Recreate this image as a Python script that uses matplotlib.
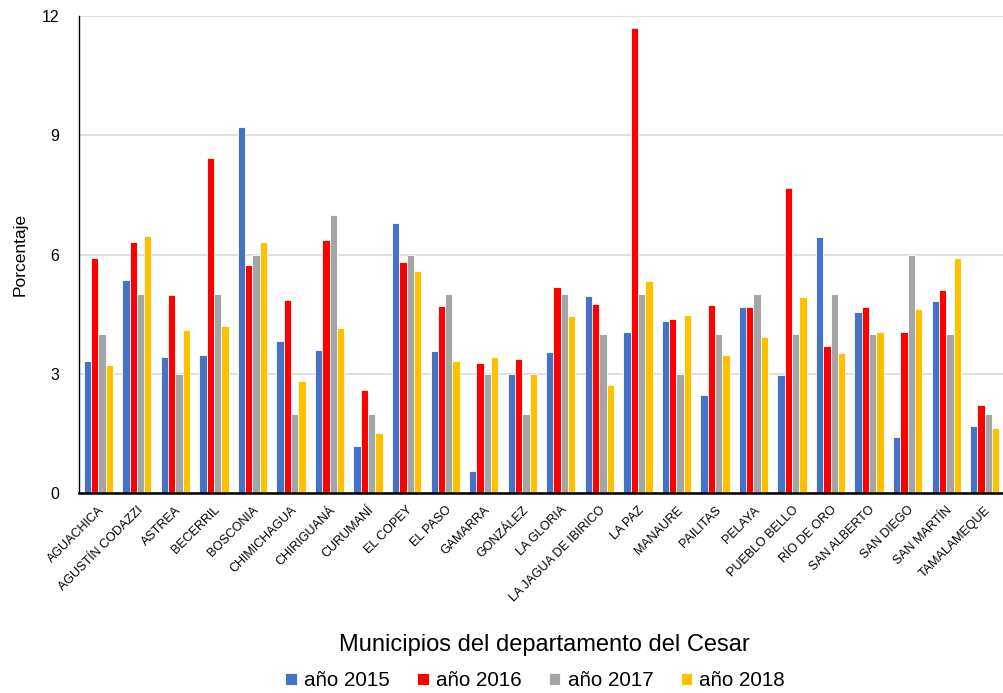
import numpy as np
import matplotlib
matplotlib.use("Agg")
import matplotlib.pyplot as plt

plt.rcParams['font.family'] = ['Liberation Sans', 'DejaVu Sans']

#
# Data.
#

municipios = ["AGUACHICA", "AGUSTÍN CODAZZI", "ASTREA", "BECERRIL", "BOSCONIA",
              "CHIMICHAGUA", "CHIRIGUANÁ", "CURUMANÍ", "EL COPEY", "EL PASO",
              "GAMARRA", "GONZÁLEZ", "LA GLORIA", "LA JAGUA DE IBIRICO", "LA PAZ",
              "MANAURE", "PAILITAS", "PELAYA", "PUEBLO BELLO", "RÍO DE ORO",
              "SAN ALBERTO", "SAN DIEGO", "SAN MARTÍN", "TAMALAMEQUE"]

y2015 = [3.31, 5.35, 3.41, 3.48, 9.20, 3.83, 3.61, 1.19, 6.79, 3.57,
         0.56, 3.00, 3.55, 4.96, 4.05, 4.32, 2.47, 4.69, 2.96, 6.45,
         4.56, 1.40, 4.82, 1.68]
y2016 = [5.92, 6.32, 4.98, 8.44, 5.74, 4.86, 6.37, 2.59, 5.81, 4.70,
         3.26, 3.37, 5.19, 4.75, 11.71, 4.39, 4.74, 4.67, 7.68, 3.70,
         4.69, 4.06, 5.11, 2.22]
y2017 = [4.0, 5.0, 3.0, 5.0, 6.0, 2.0, 7.0, 2.0, 6.0, 5.0,
         3.0, 2.0, 5.0, 4.0, 5.0, 3.0, 4.0, 5.0, 4.0, 5.0,
         4.0, 6.0, 4.0, 2.0]
y2018 = [3.23, 6.47, 4.10, 4.21, 6.32, 2.81, 4.14, 1.50, 5.59, 3.32,
         3.43, 3.00, 4.46, 2.72, 5.33, 4.47, 3.48, 3.92, 4.92, 3.52,
         4.04, 4.62, 5.90, 1.64]

series = [("año 2015", y2015, "#4472C4"),
          ("año 2016", y2016, "#FF0000"),
          ("año 2017", y2017, "#A5A5A5"),
          ("año 2018", y2018, "#FFC000")]

fig = plt.figure(figsize=(10.04, 6.93), dpi=100)
ax = fig.add_axes([0.0787, 0.2886, 0.9213, 0.6883])

x = np.arange(len(municipios))
barWidth = 0.19
for i, (name, vals, color) in enumerate(series):
    offset = (i - 1.5) * barWidth
    ax.bar(x + offset, vals, width=barWidth, color=color,
           edgecolor="white", linewidth=0.6, label=name, zorder=3)

ax.set_xlim(-0.5, len(municipios) - 0.5)
ax.set_ylim(0, 12)
ax.set_yticks([0, 3, 6, 9, 12])
ax.yaxis.grid(True, color="#d9d9d9", linewidth=1.2, zorder=0)
ax.set_axisbelow(True)

for side in ("top", "right"):
    ax.spines[side].set_visible(False)
ax.spines["left"].set_color("black")
ax.spines["left"].set_linewidth(1.0)
ax.spines["bottom"].set_color("black")
ax.spines["bottom"].set_linewidth(1.8)
ax.spines["left"].set_zorder(5)
ax.spines["bottom"].set_zorder(5)
ax.tick_params(axis="both", length=0)
ax.tick_params(axis="y", labelsize=11.5, pad=14)

ax.set_xticks(x)
ax.set_xticklabels(municipios, rotation=45, ha="right",
                   rotation_mode="anchor", fontsize=9)
ax.tick_params(axis="x", pad=8)

ax.set_ylabel("Porcentaje", fontsize=12.5, labelpad=10)
fig.text(0.5425, 0.069, "Municipios del departamento del Cesar",
         ha="center", va="center", fontsize=17)
fig.legend(loc="center", bbox_to_anchor=(0.533, 0.018), ncol=4,
           frameon=False, fontsize=14.8, handlelength=0.55, handleheight=0.55,
           handletextpad=0.35, columnspacing=1.35)

plt.savefig("out.png", dpi=100)
